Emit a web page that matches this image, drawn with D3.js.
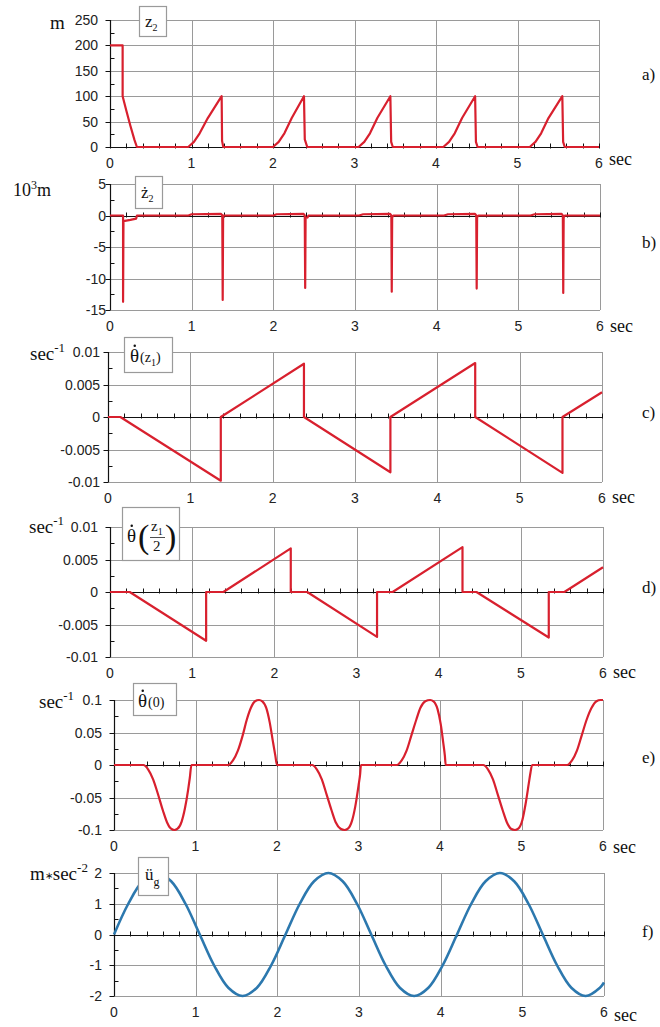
<!DOCTYPE html>
<html><head><meta charset="utf-8">
<script src="https://cdn.jsdelivr.net/npm/d3@7"></script>
<style>body{margin:0;background:#fff} svg{display:block}</style>
</head><body><svg id="c" width="660" height="1027"></svg>
<script>
// ---------- DATA ----------
const xTicks = [0, 1, 2, 3, 4, 5, 6];

// a) z2 (m)
const aTime = [0, 0.155, 0.155, 0.2, 0.25, 0.3, 0.33, 0.96, 1.03, 1.1, 1.2, 1.37, 1.375, 1.39, 2.0, 2.07, 2.14, 2.23, 2.38, 2.39, 2.42, 3.05, 3.12, 3.19, 3.28, 3.44, 3.45, 3.47, 4.09, 4.16, 4.23, 4.32, 4.48, 4.49, 4.51, 5.15, 5.22, 5.29, 5.38, 5.55, 5.56, 5.58, 6.0];
const aVal  = [200, 200, 100, 72, 42, 14, 0, 0, 10, 27, 57, 100, 12, 0, 0, 10, 27, 57, 100, 15, 0, 0, 10, 27, 57, 100, 10, 0, 0, 10, 27, 57, 100, 10, 0, 0, 10, 27, 57, 100, 10, 0, 0];
const aTicks = [0, 50, 100, 150, 200, 250];

// b) z2 dot (10^3 m)
const bTime = [0, 0.16, 0.16, 0.165, 0.25, 0.32, 0.33, 0.96, 1.0, 1.36, 1.375, 1.38, 1.385, 1.39, 2.0, 2.04, 2.37, 2.385, 2.39, 2.395, 2.42, 2.43, 3.05, 3.1, 3.43, 3.445, 3.45, 3.455, 3.47, 4.09, 4.14, 4.47, 4.485, 4.49, 4.495, 4.51, 5.15, 5.2, 5.53, 5.545, 5.55, 5.555, 5.57, 6.0];
const bVal  = [0, 0, -13.7, -0.9, -0.7, -0.5, 0, 0, 0.2, 0.25, 0, -13.4, 0, 0, 0, 0.2, 0.25, 0, -11.5, -0.4, -0.3, 0, 0, 0.2, 0.25, 0, -12.1, -0.3, 0, 0, 0.2, 0.25, 0, -11.6, -0.3, 0, 0, 0.2, 0.25, 0, -12.3, -0.3, 0, 0];
const bTicks = [-15, -10, -5, 0, 5];

// c) theta dot (z1) (1/sec)
const cTime = [0, 0.15, 1.37, 1.37, 2.38, 2.38, 3.43, 3.43, 4.46, 4.46, 5.52, 5.52, 6.0];
const cVal  = [0, 0, -0.0098, 0, 0.0082, 0, -0.0085, 0, 0.0083, 0, -0.0086, 0, 0.0038];
const cTicks = [-0.01, -0.005, 0, 0.005, 0.01];

// d) theta dot (z1/2)
const dTime = [0, 0.24, 1.17, 1.17, 1.38, 2.2, 2.2, 2.4, 3.25, 3.25, 3.44, 4.29, 4.29, 4.46, 5.34, 5.34, 5.53, 6.0];
const dVal  = [0, 0, -0.0075, 0, 0, 0.0067, 0, 0, -0.0069, 0, 0, 0.0069, 0, 0, -0.007, 0, 0, 0.0038];
const dTicks = [-0.01, -0.005, 0, 0.005, 0.01];

// e) theta dot (0)
const eTime = [0, 0.36, 0.42, 0.48, 0.54, 0.60, 0.65, 0.70, 0.74, 0.78, 0.83, 0.87, 0.91, 0.93, 0.95,
               1.40, 1.46, 1.52, 1.58, 1.63, 1.68, 1.73, 1.78, 1.82, 1.87, 1.91, 1.95, 1.98, 2.00,
               2.43, 2.49, 2.55, 2.61, 2.67, 2.72, 2.78, 2.83, 2.87, 2.92, 2.96, 3.00, 3.02, 3.03,
               3.47, 3.53, 3.59, 3.65, 3.71, 3.76, 3.82, 3.88, 3.92, 3.97, 4.01, 4.04, 4.06, 4.07,
               4.53, 4.59, 4.65, 4.71, 4.77, 4.82, 4.87, 4.92, 4.96, 5.01, 5.05, 5.09, 5.11, 5.13,
               5.56, 5.62, 5.68, 5.74, 5.80, 5.86, 5.92, 5.97, 6.0];
const eVal  = [0, 0, -0.007, -0.022, -0.045, -0.07, -0.088, -0.098, -0.1, -0.098, -0.087, -0.067, -0.038, -0.02, 0,
               0, 0.007, 0.022, 0.046, 0.07, 0.088, 0.098, 0.1, 0.098, 0.087, 0.066, 0.036, 0.014, 0,
               0, -0.007, -0.022, -0.046, -0.07, -0.088, -0.098, -0.1, -0.098, -0.086, -0.064, -0.032, -0.014, 0,
               0, 0.007, 0.022, 0.046, 0.07, 0.088, 0.098, 0.1, 0.098, 0.086, 0.062, 0.034, 0.014, 0,
               0, -0.007, -0.022, -0.046, -0.07, -0.088, -0.098, -0.1, -0.098, -0.085, -0.06, -0.028, -0.012, 0,
               0, 0.007, 0.022, 0.046, 0.07, 0.088, 0.098, 0.1, 0.1];
const eTicks = [-0.1, -0.05, 0, 0.05, 0.1];

// f) ground acceleration (m/sec^2)
const fTime = [0, 0.175, 0.35, 0.525, 0.7, 0.875, 1.05, 1.225, 1.4, 1.575, 1.75, 1.925, 2.1, 2.275, 2.45, 2.625, 2.8, 2.975, 3.15, 3.325, 3.5, 3.675, 3.85, 4.025, 4.2, 4.375, 4.55, 4.725, 4.9, 5.075, 5.25, 5.425, 5.6, 5.775, 5.95, 6.0];
const fVal  = [0, 1, 1.73, 2, 1.73, 1, 0, -1, -1.73, -2, -1.73, -1, 0, 1, 1.73, 2, 1.73, 1, 0, -1, -1.73, -2, -1.73, -1, 0, 1, 1.73, 2, 1.73, 1, 0, -1, -1.73, -2, -1.73, -1.56];
const fTicks = [-2, -1, 0, 1, 2];

// ---------- LAYOUT ----------
const RED = "#d8202e", BLUE = "#2c78ae";
const SERIF = "'Liberation Serif','Times New Roman',serif";
const SANS = "'Liberation Sans',Arial,sans-serif";

const panels = [
  {time: aTime, val: aVal, ticks: aTicks, L: 110, R: 599, T: 20, B: 147, color: RED, lab: "a)", labY: 80, labOff: 12, unitSec: 165, curve: d3.curveLinear},
  {time: bTime, val: bVal, ticks: bTicks, L: 110, R: 600, T: 184, B: 310, color: RED, lab: "b)", labY: 248, labOff: 4, unitSec: 332, curve: d3.curveLinear},
  {time: cTime, val: cVal, ticks: cTicks, L: 108, R: 602, T: 352, B: 482, color: RED, lab: "c)", labY: 418, labOff: 8, unitSec: 503, curve: d3.curveLinear},
  {time: dTime, val: dVal, ticks: dTicks, L: 110, R: 603, T: 527, B: 657, color: RED, lab: "d)", labY: 593, labOff: 12, unitSec: 678, curve: d3.curveLinear},
  {time: eTime, val: eVal, ticks: eTicks, L: 114, R: 603, T: 700, B: 830, color: RED, lab: "e)", labY: 763, labOff: 12, unitSec: 853, curve: d3.curveMonotoneX},
  {time: fTime, val: fVal, ticks: fTicks, L: 114, R: 604, T: 873, B: 996, color: BLUE, lab: "f)", labY: 937, labOff: 12, unitSec: 1021, curve: d3.curveCatmullRom}
];

const svg = d3.select("#c");
svg.append("rect").attr("width", 660).attr("height", 1027).attr("fill", "#fff");

panels.forEach((p, i) => {
  const yMin = d3.min(p.ticks), yMax = d3.max(p.ticks);
  const x = d3.scaleLinear().domain([0, 6]).range([p.L, p.R]);
  const y = d3.scaleLinear().domain([yMin, yMax]).range([p.B, p.T]);
  const g = svg.append("g");
  const step = p.ticks[1] - p.ticks[0];

  // grid
  g.selectAll(".vg").data(xTicks.slice(1)).join("line")
    .attr("x1", d => Math.round(x(d)) + 0.5).attr("x2", d => Math.round(x(d)) + 0.5)
    .attr("y1", p.T).attr("y2", p.B).attr("stroke", "#9a9a9a").attr("stroke-width", 1);
  g.selectAll(".hg").data(p.ticks).join("line")
    .attr("x1", p.L).attr("x2", p.R)
    .attr("y1", d => Math.round(y(d)) + 0.5).attr("y2", d => Math.round(y(d)) + 0.5)
    .attr("stroke", "#9a9a9a").attr("stroke-width", 1);

  // zero axis (black) with minor ticks
  const y0 = Math.round(y(0)) + 0.5;
  g.append("line").attr("x1", p.L).attr("x2", p.R).attr("y1", y0).attr("y2", y0)
    .attr("stroke", "#111").attr("stroke-width", 1.2);
  const minorX = d3.range(0, 6.0001, 0.2);
  g.selectAll(".mx").data(minorX).join("line")
    .attr("x1", d => Math.round(x(d)) + 0.5).attr("x2", d => Math.round(x(d)) + 0.5)
    .attr("y1", y0 - 4).attr("y2", y0 + 1).attr("stroke", "#111").attr("stroke-width", 1);

  // y axis
  const xa = Math.round(p.L) + 0.5;
  g.append("line").attr("x1", xa).attr("x2", xa).attr("y1", p.T).attr("y2", p.B)
    .attr("stroke", "#111").attr("stroke-width", 1.2);
  g.selectAll(".my").data(p.ticks).join("line")
    .attr("x1", xa - 5).attr("x2", xa)
    .attr("y1", d => Math.round(y(d)) + 0.5).attr("y2", d => Math.round(y(d)) + 0.5)
    .attr("stroke", "#111");
  g.selectAll(".mny").data(p.ticks.slice(1).map(d => d - step / 2)).join("line")
    .attr("x1", xa).attr("x2", xa + 4)
    .attr("y1", d => Math.round(y(d)) + 0.5).attr("y2", d => Math.round(y(d)) + 0.5)
    .attr("stroke", "#111");

  // tick labels (plain hyphen minus as in the reference)
  g.selectAll(".yl").data(p.ticks).join("text")
    .attr("x", p.L - p.labOff).attr("y", d => y(d) + 5)
    .attr("text-anchor", "end").attr("font-family", SANS).attr("font-size", 14).attr("fill", "#222")
    .text(d => String(d));
  g.selectAll(".xl").data(xTicks).join("text")
    .attr("x", d => x(d)).attr("y", p.B + 21)
    .attr("text-anchor", "middle").attr("font-family", SANS).attr("font-size", 14).attr("fill", "#222")
    .text(d => d);
  g.append("text").attr("x", x(6) + 10).attr("y", p.unitSec)
    .attr("font-family", SERIF).attr("font-size", 18).attr("fill", "#111").text("sec");

  // data line
  const pts = p.time.map((t, k) => [t, p.val[k]]);
  g.append("path").datum(pts)
    .attr("d", d3.line().x(d => x(d[0])).y(d => y(d[1])).curve(p.curve))
    .attr("fill", "none").attr("stroke", p.color).attr("stroke-width", p.color === BLUE ? 2.6 : 2.2)
    .attr("stroke-linejoin", "round");

  // panel letter
  g.append("text").attr("x", 642).attr("y", p.labY)
    .attr("font-family", SERIF).attr("font-size", 17).attr("fill", "#111").text(p.lab);
});

// unit labels on left
function serifText(x, y, size) {
  return svg.append("text").attr("x", x).attr("y", y).attr("font-family", SERIF)
    .attr("font-size", size).attr("fill", "#111");
}
serifText(50, 29, 19).text("m");
{
  const t = serifText(13, 196, 18);
  t.append("tspan").text("10");
  t.append("tspan").attr("font-size", 12).attr("dy", -7).text("3");
  t.append("tspan").attr("dy", 7).text("m");
}
[[30, 360], [29, 533], [39, 708]].forEach(([xx, yy]) => {
  const t = serifText(xx, yy, 19);
  t.append("tspan").text("sec");
  t.append("tspan").attr("font-size", 13).attr("dy", -8).text("-1");
});
{
  const t = serifText(30, 880, 19);
  t.append("tspan").text("m");
  t.append("tspan").attr("font-size", 10).attr("dy", -1).text("∗");
  t.append("tspan").attr("font-size", 19).attr("dy", 1).text("sec");
  t.append("tspan").attr("font-size", 13).attr("dy", -8).text("-2");
}

// theta with a dot above it
function thetaDot(x, y, size) {
  serifText(x, y, size).text("θ");
  svg.append("circle").attr("cx", x + size * 0.25).attr("cy", y - size * 0.86)
    .attr("r", size * 0.065).attr("fill", "#111");
}

// legend boxes
function box(x, y, w, h) {
  svg.append("rect").attr("x", x + 0.5).attr("y", y + 0.5).attr("width", w).attr("height", h)
    .attr("fill", "#fff").attr("stroke", "#9a9a9a").attr("stroke-width", 1.2);
}
box(139, 6, 27, 30);
{
  const t = serifText(145, 27, 17); t.append("tspan").text("z");
  t.append("tspan").attr("font-size", 10).attr("dy", 4).text("2");
}
box(135, 176, 27, 32);
{
  const t = serifText(141, 198, 17); t.append("tspan").text("ż");
  t.append("tspan").attr("font-size", 10).attr("dy", 4).text("2");
}
box(124, 337, 48, 35);
{
  thetaDot(130, 362, 19);
  const t = serifText(140, 362, 14);
  t.append("tspan").text("(z");
  t.append("tspan").attr("font-size", 10).attr("dy", 4).text("1");
  t.append("tspan").attr("font-size", 14).attr("dy", -4).text(")");
}
box(122, 507, 57, 53);
{
  thetaDot(127, 542, 19);
  serifText(138, 548, 34).text("(");
  const z = serifText(151, 531, 15); z.append("tspan").text("z");
  z.append("tspan").attr("font-size", 10).attr("dy", 4).text("1");
  svg.append("line").attr("x1", 150).attr("x2", 165).attr("y1", 537.5).attr("y2", 537.5)
    .attr("stroke", "#222").attr("stroke-width", 0.8);
  serifText(153, 551, 15).text("2");
  serifText(165, 548, 34).text(")");
}
box(133, 683, 43, 32);
{
  thetaDot(138, 707, 19);
  serifText(148, 707, 14).text("(0)");
}
box(138, 857, 30, 38);
{
  const t = serifText(145, 880, 17); t.append("tspan").text("ü");
  t.append("tspan").attr("font-size", 12).attr("dy", 6).text("g");
}
</script></body></html>
